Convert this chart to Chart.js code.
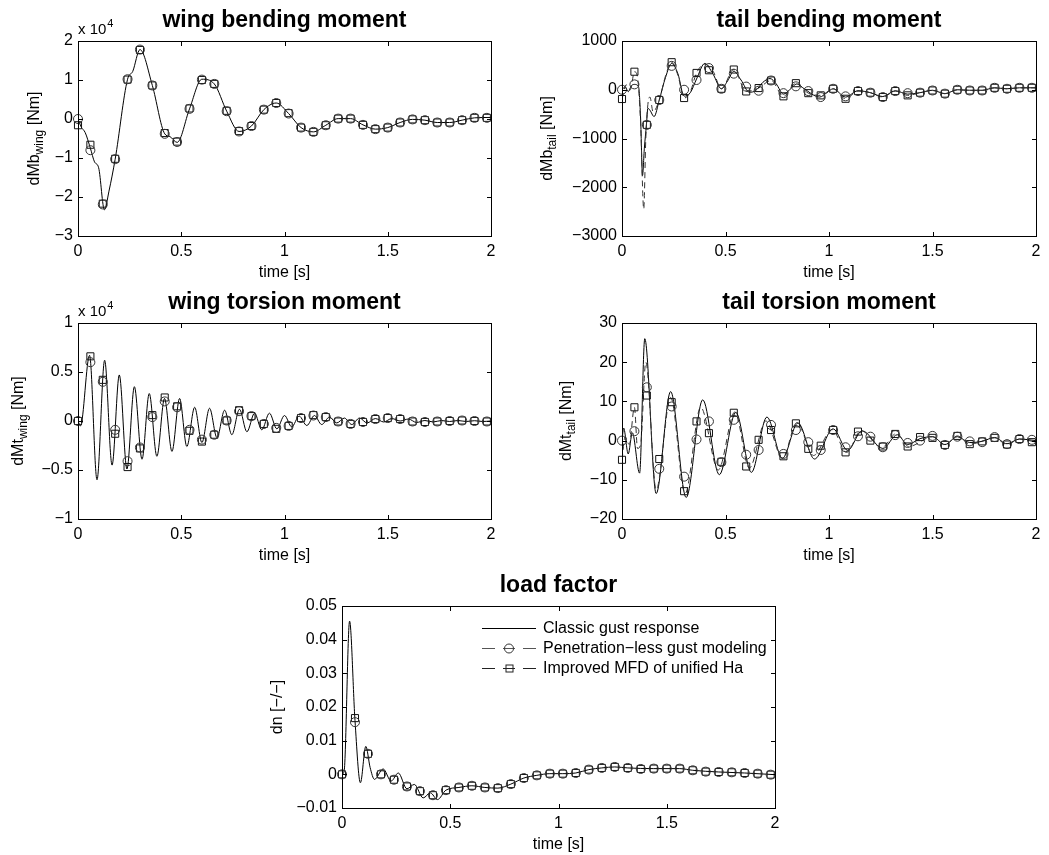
<!DOCTYPE html>
<html>
<head>
    <title>gust response loads</title>
    <script src="https://cdn.jsdelivr.net/npm/chart.js@4.4.0/dist/chart.umd.min.js"></script>
    <style>
        body { margin: 0; background: #fff; }
        #page { position: relative; width: 1049px; height: 855px; background: #fff; overflow: hidden; }
        #page canvas { position: absolute; }
    </style>
</head>
<body>
<div id="page">
    <canvas id="wingBending"></canvas>
    <canvas id="tailBending"></canvas>
    <canvas id="wingTorsion"></canvas>
    <canvas id="tailTorsion"></canvas>
    <canvas id="loadFactor"></canvas>
</div>
<script>
    const FONT = "'Liberation Sans', Arial, Helvetica, sans-serif";
    Chart.defaults.font.family = FONT;
    Chart.defaults.font.size = 16;
    Chart.defaults.color = '#000';

    const seriesNames = ['Classic gust response', 'Penetration\u2212less gust modeling', 'Improved MFD of unified Ha'];
    const timeTicks = [0, 0.5, 1, 1.5, 2];
    // marker times of the two modified models
    const markT = [0,0.06,0.12,0.18,0.24,0.30,0.36,0.42,0.48,0.54,0.60,0.66,0.72,0.78,0.84,0.90,0.96,1.02,1.08,1.14,1.20,1.26,1.32,1.38,1.44,1.50,1.56,1.62,1.68,1.74,1.80,1.86,1.92,1.98];

    // wing bending moment (x 10^4 Nm)
    const wbTicks = [-3, -2, -1, 0, 1, 2];
    const wbT = [0,0.015,0.035,0.06,0.08,0.10,0.128,0.15,0.18,0.24,0.265,0.30,0.36,0.42,0.445,0.48,0.54,0.60,0.66,0.72,0.78,0.84,0.90,0.96,1.02,1.08,1.14,1.20,1.26,1.32,1.38,1.44,1.50,1.56,1.62,1.68,1.74,1.80,1.86,1.92,2.0];
    const wbClassic = [0,-0.2,-0.35,-0.75,-1.1,-1.25,-2.33,-1.85,-1.03,1.02,1.22,1.78,0.86,-0.38,-0.45,-0.6,0.26,1.02,0.90,0.2,-0.32,-0.18,0.24,0.41,0.14,-0.22,-0.33,-0.16,0.01,0.01,-0.15,-0.26,-0.22,-0.09,-0.01,-0.03,-0.09,-0.09,-0.03,0.03,0.04];
    const wbPen = [0,-0.80,-2.19,-1.03,1.02,1.78,0.86,-0.38,-0.59,0.26,1.01,0.90,0.20,-0.32,-0.18,0.24,0.41,0.14,-0.22,-0.33,-0.16,0.01,0.01,-0.15,-0.26,-0.22,-0.09,-0.01,-0.03,-0.09,-0.09,-0.03,0.03,0.03];
    const wbMfd = [-0.16,-0.66,-2.17,-1.02,1.01,1.77,0.86,-0.36,-0.58,0.27,1.0,0.9,0.21,-0.31,-0.18,0.24,0.41,0.15,-0.22,-0.33,-0.16,0.01,0.01,-0.15,-0.26,-0.22,-0.09,-0.01,-0.03,-0.09,-0.09,-0.03,0.03,0.03];

    // tail bending moment (Nm)
    const tbTicks = [-3000, -2000, -1000, 0, 1000];
    const tbT = [0,0.015,0.03,0.045,0.06,0.08,0.09,0.099,0.108,0.118,0.125,0.135,0.155,0.18,0.21,0.24,0.27,0.30,0.33,0.36,0.40,0.44,0.48,0.51,0.54,0.575,0.615,0.645,0.68,0.715,0.745,0.78,0.81,0.845,0.88,0.955,0.99,1.02,1.08,1.14,1.20,1.26,1.32,1.38,1.44,1.50,1.56,1.62,1.68,1.74,1.80,1.86,1.92,2.0];
    const tbClassic = [0,60,-40,80,110,60,-600,-1760,-1200,-720,-380,-420,-550,-210,250,540,330,-130,-60,220,540,320,20,180,380,200,-50,-20,150,230,120,-90,0,120,20,-150,-60,20,-150,-20,-60,-140,-20,-90,-60,-10,-80,0,-10,-10,40,20,40,40];
    const tbPen = [0,110,-720,-210,490,0,200,445,20,330,65,-20,190,-70,70,-27,-150,20,-135,-27,-60,-150,-27,-70,-60,-15,-80,0,-15,-15,40,20,40,40];
    const tbMfd = [-190,370,-720,-210,565,-170,345,400,20,415,-35,35,190,-135,135,-70,-115,20,-185,-27,-60,-150,-27,-115,-60,-15,-80,0,-15,-15,40,20,40,40];
    const tbDashT = [0,0.02,0.04,0.06,0.075,0.09,0.105,0.115,0.125,0.135,0.15,0.18,0.21,0.24,0.27,0.30,0.33,0.36,0.40,0.44,0.48,0.54,0.60,0.66,0.72,0.78,0.84,0.90,0.96,1.02,1.08,1.14,1.20,1.26,1.32,1.38,1.44,1.50,1.56,1.62,1.68,1.74,1.80,1.86,1.92,2.0];
    const tbDashY = [-190,100,0,370,250,-700,-2450,-1000,-300,-150,-450,-210,280,565,300,-170,-40,345,520,380,20,415,-35,35,190,-135,135,-70,-115,20,-185,-27,-60,-150,-27,-115,-60,-15,-80,0,-15,-15,40,20,40,40];

    // wing torsion moment (x 10^4 Nm)
    const wtTicks = [-1, -0.5, 0, 0.5, 1];
    const wtT = [0,0.012,0.056,0.092,0.129,0.165,0.20,0.237,0.273,0.31,0.345,0.382,0.419,0.455,0.492,0.527,0.565,0.60,0.637,0.673,0.71,0.745,0.782,0.818,0.855,0.89,0.927,0.963,1.0,1.035,1.071,1.108,1.145,1.18,1.218,1.253,1.29,1.326,1.363,1.40,1.44,1.48,1.52,1.56,1.60,1.64,1.68,1.72,1.76,1.80,1.84,1.88,1.92,1.96,2.0];
    const wtClassic = [0,-0.05,0.67,-0.60,0.62,-0.45,0.47,-0.49,0.35,-0.39,0.28,-0.36,0.23,-0.31,0.23,-0.26,0.14,-0.22,0.13,-0.17,0.11,-0.14,0.12,-0.11,0.08,-0.09,0.08,-0.08,0.056,-0.06,0.05,-0.046,0.056,-0.036,0.04,-0.02,0.03,-0.036,0.03,-0.02,0.025,-0.01,0.025,0,0.02,-0.015,0.005,-0.01,0.005,-0.005,0.005,-0.005,0.003,-0.005,0];
    const wtPen = [0,0.60,0.40,-0.09,-0.41,-0.27,0.04,0.20,0.14,-0.09,-0.19,-0.14,0.005,0.10,0.05,-0.03,-0.07,-0.05,0.03,0.056,0.04,-0.005,-0.03,-0.01,0.02,0.03,0.02,-0.005,-0.01,-0.005,0,0.005,0,-0.005];
    const wtMfd = [0,0.66,0.42,-0.13,-0.47,-0.28,0.06,0.24,0.15,-0.10,-0.21,-0.14,0.005,0.11,0.05,-0.03,-0.08,-0.05,0.03,0.06,0.04,-0.005,-0.03,-0.01,0.02,0.03,0.02,-0.005,-0.01,-0.005,0,0.005,0,-0.005];

    // tail torsion moment (Nm)
    const ttTicks = [-20, -10, 0, 10, 20, 30];
    const ttT = [0,0.008,0.03,0.05,0.085,0.11,0.165,0.235,0.31,0.39,0.47,0.55,0.625,0.70,0.775,0.85,0.93,1.02,1.09,1.16,1.26,1.33,1.38,1.44,1.50,1.56,1.62,1.68,1.74,1.80,1.86,1.92,2.0];
    const ttClassic = [0,3.2,-3.4,2,-8.3,26,-13.5,12.5,-14.5,10.4,-8.7,7.2,-8.1,6,-4.5,4.5,-4.7,3,-2.5,2.5,-2,1.5,-1,0.5,1,-1,1,-0.5,-0.2,0.8,-0.8,0.4,0];
    const ttPen = [0,2.4,13.6,-7.2,8.7,-9.2,0.3,4.9,-5.5,5.3,-3.6,-2.4,4.0,-3.4,2.7,-0.4,-2.4,2.7,-1.7,1.1,1.0,-1.7,1.4,-0.6,0,1.2,-1.1,1.0,-0.2,-0.4,0.9,-0.9,0.4,0.2];
    const ttMfd = [-4.9,8.5,11.5,-4.7,9.8,-12.9,4.9,1.9,-5.4,7.1,-6.6,0.2,2.7,-4.0,4.4,-2.1,-1.3,2.7,-3.0,2.3,0,-1.5,1.7,-1.5,0.9,0.7,-1.1,1.2,-0.9,-0.2,0.7,-1.0,0.4,-0.4];
    const ttDashT = [0,0.015,0.035,0.06,0.075,0.09,0.115,0.165,0.235,0.305,0.38,0.465,0.545,0.615,0.695,0.775,0.845,0.925,1.015,1.085,1.155,1.255,1.325,1.385,1.50,1.56,1.62,1.68,1.80,1.86,1.92,2.0];
    const ttDashY = [-4.9,1,-1,8.5,-2,-1,20,-12.5,11,-13.5,8.5,-7.5,7.3,-7,5,-4.5,4.6,-3.8,2.8,-3,2.5,-1.8,1.8,-1.5,1,-1.1,1.2,-0.9,0.7,-1,0.4,-0.4];

    // load factor (-)
    const lfTicks = [-0.01, 0, 0.01, 0.02, 0.03, 0.04, 0.05];
    const lfT = [0,0.01,0.035,0.06,0.085,0.11,0.13,0.15,0.19,0.227,0.26,0.30,0.334,0.375,0.408,0.441,0.48,0.54,0.60,0.66,0.72,0.78,0.84,0.90,0.96,1.02,1.08,1.14,1.20,1.26,1.32,1.44,1.56,1.62,1.74,1.86,2.0];
    const lfClassic = [0,0.001,0.0455,0.016,-0.0025,0.0083,0.002,-0.0015,0.0016,-0.002,0.0004,-0.0043,-0.003,-0.007,-0.0055,-0.0075,-0.0047,-0.0039,-0.0034,-0.0039,-0.0041,-0.0029,-0.0011,-0.0003,0.0002,0.0002,0.0004,0.0014,0.0019,0.0022,0.0019,0.0017,0.0017,0.0012,0.0007,0.0004,-0.0001];
    const lfPen = [0,0.0155,0.0061,0,-0.0016,-0.0036,-0.005,-0.0062,-0.0047,-0.0039,-0.0034,-0.0039,-0.0041,-0.0029,-0.0011,-0.0003,0.0002,0.0002,0.0004,0.0014,0.0019,0.0022,0.0019,0.0016,0.0017,0.0017,0.0017,0.0012,0.0008,0.0007,0.0006,0.0004,0.0002,-0.0001];
    const lfMfd = [0,0.0167,0.0061,0,-0.0016,-0.0036,-0.005,-0.0062,-0.0047,-0.0039,-0.0034,-0.0039,-0.0041,-0.0029,-0.0011,-0.0003,0.0002,0.0002,0.0004,0.0014,0.0019,0.0022,0.0019,0.0016,0.0017,0.0017,0.0017,0.0012,0.0008,0.0007,0.0006,0.0004,0.0002,-0.0001];

    function pts(t, y) {
        return t.map((v, i) => ({x: v, y: y[i]}));
    }
    function fmtTick(v) {
        return v < 0 ? '\u2212' + String(-v) : String(v);
    }
    function lineSet(label, t, y, dash, color) {
        return {
            label: label, data: pts(t, y), borderColor: color, borderWidth: 1, borderDash: dash,
            pointRadius: 0, cubicInterpolationMode: 'monotone', fill: false
        };
    }
    function markSet(label, y, style, r, color) {
        return {
            label: label, data: pts(markT, y), showLine: false, borderColor: color,
            pointStyle: style, pointRadius: r, pointBorderColor: color, pointBorderWidth: 1,
            pointBackgroundColor: 'rgba(0,0,0,0)', clip: false
        };
    }

    // draws the matlab-style box, inward ticks, title, subscripted y label, exponent and legend
    function decor(p) {
        return {
            id: 'decor',
            afterDraw(chart) {
                const ctx = chart.ctx, a = chart.chartArea, xs = chart.scales.x, ys = chart.scales.y;
                ctx.save();
                ctx.strokeStyle = '#000';
                ctx.lineWidth = 1;
                ctx.setLineDash([]);
                ctx.strokeRect(a.left + 0.5, a.top + 0.5, a.right - a.left, a.bottom - a.top);
                ctx.beginPath();
                xs.ticks.forEach(t => {
                    const px = Math.round(xs.getPixelForValue(t.value)) + 0.5;
                    ctx.moveTo(px, a.bottom); ctx.lineTo(px, a.bottom - 4);
                    ctx.moveTo(px, a.top + 1); ctx.lineTo(px, a.top + 5);
                });
                ys.ticks.forEach(t => {
                    const py = Math.round(ys.getPixelForValue(t.value)) + 0.5;
                    ctx.moveTo(a.left + 1, py); ctx.lineTo(a.left + 5, py);
                    ctx.moveTo(a.right, py); ctx.lineTo(a.right - 4, py);
                });
                ctx.stroke();

                ctx.fillStyle = '#000';
                ctx.font = 'bold 23px ' + FONT;
                ctx.textAlign = 'center';
                ctx.textBaseline = 'alphabetic';
                ctx.fillText(p.title, (a.left + a.right) / 2, a.top - 14);

                // y label, rotated, with subscript
                ctx.save();
                ctx.translate(a.left - p.ydx, (a.top + a.bottom) / 2);
                ctx.rotate(-Math.PI / 2);
                let total = 0;
                p.ylab.forEach(([s, sub]) => {
                    ctx.font = (sub ? '12px ' : '16px ') + FONT;
                    total += ctx.measureText(s).width;
                });
                let cx = -total / 2;
                ctx.textAlign = 'left';
                ctx.textBaseline = 'middle';
                p.ylab.forEach(([s, sub]) => {
                    ctx.font = (sub ? '12px ' : '16px ') + FONT;
                    ctx.fillText(s, cx, sub ? 5 : 0);
                    cx += ctx.measureText(s).width;
                });
                ctx.restore();

                if (p.exp) {
                    ctx.textAlign = 'left';
                    ctx.textBaseline = 'alphabetic';
                    ctx.font = '15px ' + FONT;
                    ctx.fillText('x 10', a.left, a.top - 7);
                    const w = ctx.measureText('x 10').width;
                    ctx.font = '11px ' + FONT;
                    ctx.fillText('4', a.left + w + 1, a.top - 14);
                }

                if (p.legend) {
                    const x0 = a.left + 140, x1 = a.left + 194, mx = a.left + 167;
                    const rows = [a.top + 22, a.top + 42, a.top + 62];
                    ctx.lineWidth = 1;
                    // classic
                    ctx.strokeStyle = '#000';
                    ctx.beginPath(); ctx.moveTo(x0, rows[0] + 0.5); ctx.lineTo(x1, rows[0] + 0.5); ctx.stroke();
                    // penetration-less
                    ctx.strokeStyle = '#555';
                    ctx.setLineDash([13, 8, 12, 8, 13]);
                    ctx.beginPath(); ctx.moveTo(x0, rows[1] + 0.5); ctx.lineTo(x1, rows[1] + 0.5); ctx.stroke();
                    ctx.setLineDash([]);
                    ctx.strokeStyle = '#333';
                    ctx.beginPath(); ctx.arc(mx, rows[1] + 0.5, 4.5, 0, Math.PI * 2); ctx.stroke();
                    // improved MFD
                    ctx.strokeStyle = '#222';
                    ctx.setLineDash([13, 8, 12, 8, 13]);
                    ctx.beginPath(); ctx.moveTo(x0, rows[2] + 0.5); ctx.lineTo(x1, rows[2] + 0.5); ctx.stroke();
                    ctx.setLineDash([]);
                    ctx.strokeRect(mx - 3, rows[2] - 3, 7, 7);

                    ctx.fillStyle = '#000';
                    ctx.font = '16px ' + FONT;
                    ctx.textAlign = 'left';
                    ctx.textBaseline = 'middle';
                    seriesNames.forEach((s, i) => ctx.fillText(s, a.left + 201, rows[i] + 1));
                }
                ctx.restore();
            }
        };
    }

    function makeChart(id, p) {
        const cv = document.getElementById(id);
        cv.width = p.w;
        cv.height = p.h;
        cv.style.left = p.left + 'px';
        cv.style.top = p.top + 'px';
        const datasets = [
            markSet(seriesNames[1], p.pen, 'circle', 4.5, '#333'),
            markSet(seriesNames[2], p.mfd, 'rect', 5, '#111')
        ];
        if (p.dashT) datasets.push(lineSet(seriesNames[2], p.dashT, p.dashY, [6, 4], '#333'));
        datasets.push(lineSet(seriesNames[0], p.t, p.classic, [], '#000'));
        return new Chart(cv, {
            type: 'line',
            data: { datasets: datasets },
            options: {
                responsive: false,
                animation: false,
                devicePixelRatio: 1,
                events: [],
                layout: { padding: { top: p.pt, right: p.pr, left: 0, bottom: 0 } },
                plugins: { legend: { display: false }, tooltip: { enabled: false } },
                scales: {
                    x: {
                        type: 'linear', min: 0, max: 2,
                        afterBuildTicks: s => { s.ticks = timeTicks.map(v => ({value: v})); },
                        afterFit: s => { s.height = 46; },
                        grid: { display: false, drawTicks: false },
                        border: { display: false },
                        ticks: { padding: 6, maxRotation: 0, autoSkip: false, callback: fmtTick },
                        title: { display: true, text: 'time [s]', padding: { top: 0, bottom: 0 }, font: { size: 16 } }
                    },
                    y: {
                        type: 'linear', min: p.min, max: p.max,
                        afterBuildTicks: s => { s.ticks = p.yTicks.map(v => ({value: v})); },
                        afterFit: s => { s.width = p.yw; },
                        grid: { display: false, drawTicks: false },
                        border: { display: false },
                        ticks: { padding: 5, autoSkip: false, callback: fmtTick }
                    }
                }
            },
            plugins: [decor(p)]
        });
    }

    makeChart('wingBending', {
        left: 0, top: 0, w: 530, h: 282, yw: 78, pt: 41, pr: 39,
        min: -3, max: 2, yTicks: wbTicks, title: 'wing bending moment', exp: true,
        ylab: [['dMb', 0], ['wing', 1], [' [Nm]', 0]], ydx: 43,
        t: wbT, classic: wbClassic, pen: wbPen, mfd: wbMfd
    });
    makeChart('tailBending', {
        left: 530, top: 0, w: 519, h: 282, yw: 92, pt: 41, pr: 13,
        min: -3000, max: 1000, yTicks: tbTicks, title: 'tail bending moment',
        ylab: [['dMb', 0], ['tail', 1], [' [Nm]', 0]], ydx: 74,
        t: tbT, classic: tbClassic, pen: tbPen, mfd: tbMfd, dashT: tbDashT, dashY: tbDashY
    });
    makeChart('wingTorsion', {
        left: 0, top: 282, w: 530, h: 283, yw: 78, pt: 41, pr: 39,
        min: -1, max: 1, yTicks: wtTicks, title: 'wing torsion moment', exp: true,
        ylab: [['dMt', 0], ['wing', 1], [' [Nm]', 0]], ydx: 59,
        t: wtT, classic: wtClassic, pen: wtPen, mfd: wtMfd
    });
    makeChart('tailTorsion', {
        left: 530, top: 282, w: 519, h: 283, yw: 92, pt: 41, pr: 13,
        min: -20, max: 30, yTicks: ttTicks, title: 'tail torsion moment',
        ylab: [['dMt', 0], ['tail', 1], [' [Nm]', 0]], ydx: 55,
        t: ttT, classic: ttClassic, pen: ttPen, mfd: ttMfd, dashT: ttDashT, dashY: ttDashY
    });
    makeChart('loadFactor', {
        left: 230, top: 565, w: 580, h: 289, yw: 112, pt: 41, pr: 35,
        min: -0.01, max: 0.05, yTicks: lfTicks, title: 'load factor', legend: true,
        ylab: [['dn [\u2212/\u2212]', 0]], ydx: 64,
        t: lfT, classic: lfClassic, pen: lfPen, mfd: lfMfd
    });
</script>
</body>
</html>
